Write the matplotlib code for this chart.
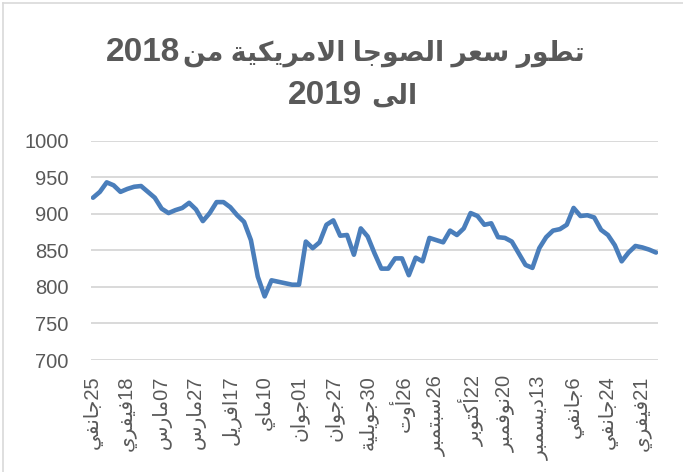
import matplotlib
matplotlib.use('Agg')
import matplotlib.pyplot as plt
from matplotlib.lines import Line2D

# soybean price, one value per observation (83 points, labelled every 5th)
prices = [922, 930, 943, 939, 930, 934, 937, 938, 930, 922,
          907, 901, 905, 908, 915, 906, 890, 901, 916, 916,
          909, 898, 889, 864, 814, 787, 809, 807, 805, 803,
          803, 862, 853, 861, 885, 891, 870, 871, 844, 880,
          869, 846, 825, 825, 839, 839, 816, 840, 835, 867,
          864, 861, 877, 871, 880, 901, 897, 885, 887, 868,
          867, 862, 846, 830, 826, 853, 868, 877, 879, 885,
          908, 897, 898, 895, 878, 871, 857, 835, 847, 856,
          854, 851, 847]
label_step = 5
tick_labels = ['25جانفي', '18فيفري', '07مارس', '27مارس', '17افريل', '10ماي',
               '01جوان', '27جوان', '30جويلية', '26أوت', '26سبتمبر', '22أكتوبر',
               '20نوفمبر', '13ديسمبر', '6جانفي', '24جانفي', '21فيفري']
yticks = [700, 750, 800, 850, 900, 950, 1000]
# title: arabic words and year of each line
title_words = ['تطور سعر الصوجا الامريكية من', 'الى']
title_years = ['2018', '2019']

# matplotlib does no arabic shaping, so pick the presentation forms by hand
# (isolated, final, initial, medial)
FORMS = {
    'ا': ('\uFE8D', '\uFE8E', None, None),
    'أ': ('\uFE83', '\uFE84', None, None),
    'ب': ('\uFE8F', '\uFE90', '\uFE91', '\uFE92'),
    'ة': ('\uFE93', '\uFE94', None, None),
    'ت': ('\uFE95', '\uFE96', '\uFE97', '\uFE98'),
    'ج': ('\uFE9D', '\uFE9E', '\uFE9F', '\uFEA0'),
    'د': ('\uFEA9', '\uFEAA', None, None),
    'ر': ('\uFEAD', '\uFEAE', None, None),
    'س': ('\uFEB1', '\uFEB2', '\uFEB3', '\uFEB4'),
    'ص': ('\uFEB9', '\uFEBA', '\uFEBB', '\uFEBC'),
    'ط': ('\uFEC1', '\uFEC2', '\uFEC3', '\uFEC4'),
    'ع': ('\uFEC9', '\uFECA', '\uFECB', '\uFECC'),
    'ف': ('\uFED1', '\uFED2', '\uFED3', '\uFED4'),
    'ك': ('\uFED9', '\uFEDA', '\uFEDB', '\uFEDC'),
    'ل': ('\uFEDD', '\uFEDE', '\uFEDF', '\uFEE0'),
    'م': ('\uFEE1', '\uFEE2', '\uFEE3', '\uFEE4'),
    'ن': ('\uFEE5', '\uFEE6', '\uFEE7', '\uFEE8'),
    'و': ('\uFEED', '\uFEEE', None, None),
    'ى': ('\uFEEF', '\uFEF0', None, None),
    'ي': ('\uFEF1', '\uFEF2', '\uFEF3', '\uFEF4'),
    'لا': ('\uFEFB', '\uFEFC', None, None),
    'لأ': ('\uFEF7', '\uFEF8', None, None),
}


def shape(word):
    toks = []
    i = 0
    while i < len(word):
        if word[i] == 'ل' and i + 1 < len(word) and word[i + 1] in 'اأ':
            toks.append(word[i:i + 2])
            i += 2
        else:
            toks.append(word[i])
            i += 1
    out = []
    for j, t in enumerate(toks):
        prev = j > 0 and toks[j - 1] in FORMS and FORMS[toks[j - 1]][2] is not None
        nxt = j + 1 < len(toks) and toks[j + 1] in FORMS and FORMS[t][2] is not None
        f = FORMS[t]
        if prev and nxt:
            out.append(f[3])
        elif prev:
            out.append(f[1])
        elif nxt:
            out.append(f[2])
        else:
            out.append(f[0])
    return ''.join(out)


def visual(s):
    # rtl paragraph: reverse the runs, keep digit runs left to right
    runs = []
    for c in s:
        d = c.isdigit()
        if runs and runs[-1][0] == d:
            runs[-1][1] += c
        else:
            runs.append([d, c])
    res = ''
    for d, txt in reversed(runs):
        if d:
            res += txt
        else:
            res += ' '.join(shape(w) if w else w for w in txt.split(' '))[::-1]
    return res


fam = ['Liberation Sans', 'DejaVu Sans']
grey = '#595959'

fig = plt.figure(figsize=(6.83, 4.72), dpi=100)
ax = fig.add_axes([91 / 683, 1 - 360 / 472, 567 / 683, 219.3 / 472])

x = list(range(len(prices)))
ax.plot(x, prices, color='#4a7ebb', linewidth=3.3,
        solid_joinstyle='round', solid_capstyle='round', zorder=3)

ax.set_ylim(700, 1000)
ax.set_xlim(-0.29, len(prices) - 1 + 0.29)
ax.set_yticks(yticks)
ax.set_yticklabels([str(v) for v in yticks], family=fam, fontsize=14.5, color=grey)
ax.set_xticks(list(range(0, len(prices), label_step)))
ax.set_xticklabels([visual(t) for t in tick_labels], rotation=90, family=fam,
                   fontsize=14.5, color=grey, va='top', ha='center')
ax.tick_params(axis='both', length=0)
ax.tick_params(axis='y', pad=16)
ax.tick_params(axis='x', pad=11)
ax.grid(axis='y', color='#d9d9d9', linewidth=1.4)
ax.set_axisbelow(True)
for s in ax.spines.values():
    s.set_visible(False)

# title: year on the left, arabic words on the right of each line
for words, year, xl, xr, yb in zip(title_words, title_years, [106, 288], [585, 417], [61, 104]):
    fig.text(xl / 683, 1 - yb / 472, year, ha='left', va='baseline',
             family=fam, fontsize=24, fontweight='bold', color=grey)
    fig.text(xr / 683, 1 - yb / 472, visual(words), ha='right', va='baseline',
             family=fam, fontsize=19.2, fontweight='bold', color=grey)

# chart frame, only the top and left edges show in the crop
fig.add_artist(Line2D([3 / 683, 1], [1 - 3 / 472, 1 - 3 / 472], color='#d9d9d9', lw=1.2))
fig.add_artist(Line2D([3 / 683, 3 / 683], [0, 1 - 3 / 472], color='#d9d9d9', lw=1.2))

fig.savefig('out.png', dpi=100)
